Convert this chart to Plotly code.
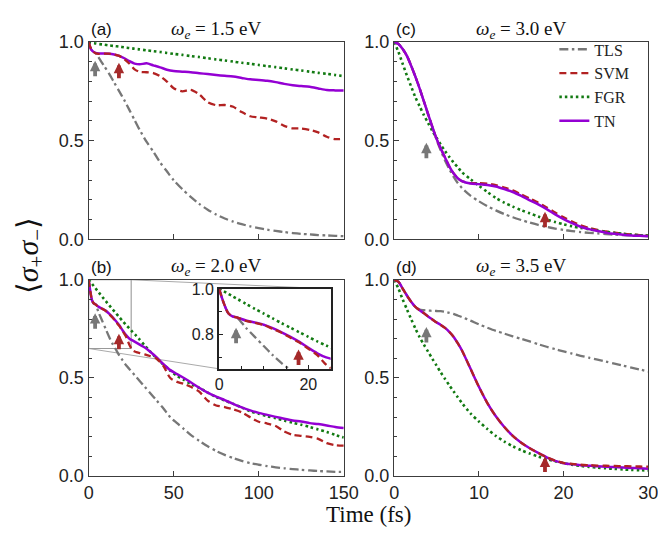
import plotly.graph_objects as go

# ---------------- data ----------------
series_names = ["TLS", "SVM", "FGR", "TN"]

# panel (a)  omega_e = 1.5 eV
t_a = [0, 1, 2, 4, 6, 9, 12, 15, 18, 21, 24, 27, 30, 34, 38, 42, 46, 50, 55, 60, 65,
       70, 75, 80, 85, 90, 95, 100, 105, 110, 115, 120, 125, 130, 135, 140, 145, 150]
tls_a = [1.0, 0.97, 0.957, 0.945, 0.92, 0.88, 0.84, 0.795, 0.75, 0.705, 0.655, 0.605, 0.555,
         0.495, 0.445, 0.39, 0.345, 0.30, 0.255, 0.215, 0.18, 0.15, 0.126, 0.106, 0.09, 0.077,
         0.066, 0.057, 0.049, 0.043, 0.037, 0.032, 0.028, 0.025, 0.022, 0.02, 0.018, 0.016]
svm_a = [1.0, 0.975, 0.958, 0.943, 0.94, 0.941, 0.941, 0.937, 0.93, 0.913, 0.89, 0.862, 0.849,
         0.847, 0.843, 0.827, 0.8, 0.766, 0.75, 0.758, 0.735, 0.695, 0.68, 0.681, 0.672, 0.645,
         0.624, 0.618, 0.612, 0.598, 0.575, 0.563, 0.562, 0.555, 0.542, 0.52, 0.508, 0.51]
fgr_a = [1.0, 0.997, 0.995, 0.993, 0.99, 0.987, 0.983, 0.98, 0.977, 0.973, 0.97, 0.966, 0.963,
         0.958, 0.954, 0.95, 0.945, 0.94, 0.935, 0.929, 0.924, 0.918, 0.912, 0.907, 0.901, 0.895,
         0.89, 0.884, 0.878, 0.873, 0.867, 0.861, 0.856, 0.85, 0.844, 0.839, 0.833, 0.827]
tn_a = [1.0, 0.97, 0.957, 0.945, 0.942, 0.942, 0.941, 0.937, 0.93, 0.918, 0.903, 0.891, 0.887,
        0.892, 0.882, 0.872, 0.86, 0.853, 0.85, 0.847, 0.842, 0.838, 0.833, 0.829, 0.825, 0.818,
        0.811, 0.808, 0.804, 0.797, 0.788, 0.781, 0.777, 0.773, 0.765, 0.757, 0.755, 0.754]

# panel (b)  omega_e = 2.0 eV
t_b = [0, 1, 2, 3, 4, 6, 8, 10, 12, 14, 16, 18, 20, 22, 24, 26, 28, 30, 33, 36, 40, 44, 48,
       52, 56, 60, 65, 70, 75, 80, 85, 90, 95, 100, 105, 110, 115, 120, 125, 130, 135, 140,
       145, 150]
tls_b = [1.0, 0.94, 0.895, 0.88, 0.875, 0.83, 0.79, 0.75, 0.71, 0.675, 0.645, 0.615, 0.59,
         0.565, 0.545, 0.525, 0.505, 0.485, 0.455, 0.425, 0.385, 0.345, 0.30, 0.27, 0.24, 0.21,
         0.18, 0.152, 0.128, 0.108, 0.092, 0.078, 0.066, 0.058, 0.051, 0.045, 0.04, 0.036,
         0.032, 0.029, 0.026, 0.024, 0.022, 0.021]
svm_b = [1.0, 0.94, 0.895, 0.88, 0.875, 0.86, 0.852, 0.842, 0.825, 0.808, 0.786, 0.765, 0.738,
         0.71, 0.668, 0.64, 0.632, 0.627, 0.62, 0.612, 0.598, 0.56, 0.5, 0.48, 0.47, 0.455,
         0.43, 0.385, 0.36, 0.352, 0.34, 0.325, 0.3, 0.277, 0.268, 0.255, 0.228, 0.21, 0.205,
         0.2, 0.19, 0.168, 0.158, 0.155]
fgr_b = [1.0, 0.99, 0.979, 0.968, 0.957, 0.935, 0.913, 0.892, 0.871, 0.85, 0.83, 0.81, 0.79,
         0.77, 0.752, 0.733, 0.715, 0.695, 0.665, 0.637, 0.6, 0.567, 0.537, 0.51, 0.49, 0.47,
         0.45, 0.425, 0.403, 0.385, 0.368, 0.35, 0.33, 0.318, 0.305, 0.295, 0.283, 0.272,
         0.262, 0.25, 0.238, 0.225, 0.21, 0.197]
tn_b = [1.0, 0.94, 0.895, 0.88, 0.875, 0.862, 0.853, 0.843, 0.828, 0.81, 0.79, 0.768, 0.742,
        0.718, 0.70, 0.69, 0.68, 0.67, 0.655, 0.635, 0.605, 0.57, 0.54, 0.52, 0.5, 0.478,
        0.45, 0.425, 0.405, 0.387, 0.368, 0.35, 0.335, 0.322, 0.312, 0.302, 0.292, 0.283,
        0.278, 0.27, 0.265, 0.258, 0.25, 0.245]

# panels (c) and (d) share a time grid
t_cd = [0, 0.5, 1, 1.5, 2, 2.5, 3, 3.5, 4, 4.5, 5, 5.5, 6, 6.5, 7, 7.5, 8, 9, 10, 11, 12,
        13, 14, 15, 16, 17, 18, 19, 20, 21, 22, 23, 24, 25, 26, 27, 28, 29, 30]
# panel (c)  omega_e = 3.0 eV
tls_c = [1.0, 0.99, 0.965, 0.93, 0.88, 0.825, 0.765, 0.70, 0.635, 0.57, 0.505, 0.45, 0.40,
         0.357, 0.318, 0.286, 0.26, 0.222, 0.193, 0.168, 0.147, 0.128, 0.112, 0.098, 0.085,
         0.073, 0.063, 0.055, 0.048, 0.042, 0.037, 0.033, 0.03, 0.027, 0.024, 0.022, 0.02,
         0.018, 0.016]
svm_c = [1.0, 0.99, 0.965, 0.93, 0.88, 0.825, 0.765, 0.70, 0.635, 0.57, 0.51, 0.46, 0.415,
         0.37, 0.335, 0.31, 0.295, 0.285, 0.285, 0.282, 0.275, 0.263, 0.248, 0.228, 0.207,
         0.186, 0.162, 0.136, 0.112, 0.09, 0.072, 0.058, 0.048, 0.04, 0.034, 0.029, 0.025,
         0.022, 0.02]
fgr_c = [1.0, 0.95, 0.89, 0.83, 0.775, 0.72, 0.675, 0.63, 0.59, 0.55, 0.515, 0.48, 0.447,
         0.418, 0.39, 0.366, 0.34, 0.305, 0.272, 0.24, 0.21, 0.186, 0.166, 0.148, 0.132,
         0.116, 0.101, 0.088, 0.076, 0.066, 0.058, 0.051, 0.044, 0.038, 0.033, 0.028, 0.024,
         0.021, 0.018]
tn_c = [1.0, 0.99, 0.965, 0.93, 0.88, 0.825, 0.765, 0.70, 0.635, 0.57, 0.51, 0.46, 0.415,
        0.37, 0.335, 0.31, 0.295, 0.283, 0.28, 0.276, 0.268, 0.255, 0.24, 0.22, 0.198, 0.177,
        0.153, 0.127, 0.103, 0.082, 0.064, 0.052, 0.042, 0.034, 0.028, 0.024, 0.02, 0.018,
        0.016]
# panel (d)  omega_e = 3.5 eV
tls_d = [1.0, 0.99, 0.955, 0.92, 0.888, 0.862, 0.848, 0.845, 0.843, 0.842, 0.841, 0.84,
         0.837, 0.832, 0.826, 0.818, 0.81, 0.792, 0.773, 0.756, 0.74, 0.726, 0.712, 0.699,
         0.686, 0.672, 0.659, 0.647, 0.635, 0.624, 0.613, 0.603, 0.593, 0.583, 0.573, 0.563,
         0.553, 0.543, 0.533]
svm_d = [1.0, 0.99, 0.955, 0.92, 0.888, 0.862, 0.845, 0.83, 0.813, 0.798, 0.783, 0.77, 0.755,
         0.735, 0.71, 0.677, 0.64, 0.548, 0.455, 0.372, 0.305, 0.25, 0.205, 0.17, 0.142,
         0.118, 0.096, 0.079, 0.068, 0.062, 0.058, 0.056, 0.054, 0.053, 0.052, 0.051, 0.05,
         0.049, 0.048]
fgr_d = [1.0, 0.955, 0.9, 0.85, 0.8, 0.752, 0.708, 0.67, 0.634, 0.598, 0.563, 0.528, 0.495,
         0.463, 0.432, 0.402, 0.372, 0.32, 0.278, 0.24, 0.205, 0.176, 0.152, 0.132, 0.115,
         0.1, 0.087, 0.076, 0.066, 0.058, 0.052, 0.047, 0.043, 0.04, 0.037, 0.034, 0.032,
         0.03, 0.029]
tn_d = [1.0, 0.99, 0.955, 0.92, 0.888, 0.862, 0.845, 0.83, 0.813, 0.798, 0.783, 0.77, 0.755,
        0.735, 0.71, 0.677, 0.64, 0.548, 0.455, 0.372, 0.305, 0.25, 0.205, 0.17, 0.142,
        0.118, 0.096, 0.078, 0.066, 0.06, 0.056, 0.053, 0.05, 0.048, 0.046, 0.044, 0.042,
        0.04, 0.038]

panel_letters = ["(a)", "(b)", "(c)", "(d)"]
omega_values = ["1.5", "2.0", "3.0", "3.5"]

# arrows: times marked and the curve value at each arrow tip
arrow_times = [3.8, 17.8]
arrow_tip_a = [0.905, 0.895]
arrow_tip_b = [0.83, 0.725]
arrow_tip_c = [0.49, 0.14]
arrow_tip_d = [0.76, 0.10]
arrow_tip_inset = [0.83, 0.735]

# inset window of panel (b)
inset_x_range = [0, 25]
inset_y_range = [0.65, 1.0]

# ---------------- styling ----------------
W, H = 666, 533
C = {"TLS": "#777777", "SVM": "#b22222", "FGR": "#127a12", "TN": "#9400d3"}
DASH = {"TLS": "9px,3.5px,2.5px,3.5px", "SVM": "7px,4px", "FGR": "2.5px,3px", "TN": "solid"}
WID = {"TLS": 2.3, "SVM": 2.3, "FGR": 2.6, "TN": 2.5}
ARROW_C = ["#777777", "#a52a2a"]
FRAME = "#3c3c3c"
SANS = "Liberation Sans, Arial, sans-serif"
SERIF = "Liberation Serif, Times New Roman, serif"


def xd(p0, p1):
    return [p0 / W, p1 / W]


def yd(top, bottom):
    return [1 - bottom / H, 1 - top / H]


# plot-area boxes in pixels (left, right, top, bottom)
boxes = {
    "a": (78, 341, 25, 230),
    "b": (78, 341, 272, 476),
    "c": (393, 655, 25, 230),
    "d": (393, 655, 272, 476),
    "i": (212.5, 327.5, 281.5, 364.5),
}

fig = go.Figure()

panels = [
    ("a", "x", "y", t_a, {"TLS": tls_a, "SVM": svm_a, "FGR": fgr_a, "TN": tn_a}, ["TLS", "FGR", "TN", "SVM"]),
    ("b", "x2", "y2", t_b, {"TLS": tls_b, "SVM": svm_b, "FGR": fgr_b, "TN": tn_b}, ["TLS", "FGR", "TN", "SVM"]),
    ("c", "x3", "y3", t_cd, {"TLS": tls_c, "SVM": svm_c, "FGR": fgr_c, "TN": tn_c}, ["TLS", "SVM", "FGR", "TN"]),
    ("d", "x4", "y4", t_cd, {"TLS": tls_d, "SVM": svm_d, "FGR": fgr_d, "TN": tn_d}, ["TLS", "FGR", "TN", "SVM"]),
    ("i", "x5", "y5", t_b, {"TLS": tls_b, "SVM": svm_b, "FGR": fgr_b, "TN": tn_b}, ["TLS", "FGR", "TN", "SVM"]),
]

for key, xa, ya, tt, ser, order in panels:
    for name in order:
        fig.add_trace(go.Scatter(
            x=tt, y=ser[name], xaxis=xa, yaxis=ya, mode="lines", name=name,
            line=dict(color=C[name], width=WID[name], dash=DASH[name], shape="spline", smoothing=0.7),
            showlegend=(key == "c"), legendrank=series_names.index(name) + 1,
            hoverinfo="skip",
        ))

tickfont = dict(family=SANS, size=18, color="#222222")


def xaxis(box, rng, dtick, labels, anchor):
    l, r, t, b = box
    return dict(domain=xd(l, r), range=rng, anchor=anchor, showline=True, mirror=True,
                linecolor=FRAME, linewidth=1.4, ticks="inside", ticklen=5, tickwidth=1.2,
                tickcolor=FRAME, showgrid=False, zeroline=False, tick0=0, dtick=dtick,
                showticklabels=labels, tickfont=tickfont)


def yaxis(box, anchor):
    l, r, t, b = box
    return dict(domain=yd(t, b), range=[0, 1.0], anchor=anchor, showline=True, mirror=True,
                linecolor=FRAME, linewidth=1.4, ticks="inside", ticklen=5, tickwidth=1.2,
                tickcolor=FRAME, showgrid=False, zeroline=False, tick0=0, dtick=0.5,
                tickformat=".1f", tickfont=tickfont,
                minor=dict(dtick=0.1, ticks="inside", ticklen=3, tickwidth=1, tickcolor=FRAME))


li, ri, ti, bi = boxes["i"]
layout = dict(
    width=W, height=H, margin=dict(l=0, r=0, t=0, b=0),
    paper_bgcolor="white", plot_bgcolor="white",
    xaxis=xaxis(boxes["a"], [0, 150], 50, False, "y"),
    yaxis=yaxis(boxes["a"], "x"),
    xaxis2=xaxis(boxes["b"], [0, 150], 50, True, "y2"),
    yaxis2=yaxis(boxes["b"], "x2"),
    xaxis3=xaxis(boxes["c"], [0, 30], 10, False, "y3"),
    yaxis3=yaxis(boxes["c"], "x3"),
    xaxis4=xaxis(boxes["d"], [0, 30], 10, True, "y4"),
    yaxis4=yaxis(boxes["d"], "x4"),
    xaxis5=dict(domain=xd(li, ri), range=inset_x_range, anchor="y5", showline=True, mirror=True,
                linecolor="#222222", linewidth=2, ticks="inside", ticklen=4, tickwidth=1.2,
                tickcolor="#222222", showgrid=False, zeroline=False, tick0=0, dtick=20,
                tickfont=dict(family=SANS, size=16, color="#222222"),
                minor=dict(dtick=5, ticks="inside", ticklen=3, tickcolor="#222222")),
    yaxis5=dict(domain=yd(ti, bi), range=inset_y_range, anchor="x5", showline=True, mirror=True,
                linecolor="#222222", linewidth=2, ticks="inside", ticklen=4, tickwidth=1.2,
                tickcolor="#222222", showgrid=False, zeroline=False, tick0=0, dtick=0.2,
                tickformat=".1f", tickfont=dict(family=SANS, size=16, color="#222222"),
                minor=dict(dtick=0.1, ticks="inside", ticklen=3, tickcolor="#222222")),
    showlegend=True,
    legend=dict(x=0.838, y=0.972, xanchor="left", yanchor="top", bgcolor="rgba(0,0,0,0)",
                font=dict(family=SERIF, size=16, color="#222222"), tracegroupgap=0,
                traceorder="normal"),
)
fig.update_layout(**layout)

annotations = []
# panel letters and titles
for key, letter, om in zip(["a", "b", "c", "d"], panel_letters, omega_values):
    l, r, t, b = boxes[key]
    annotations.append(dict(xref="paper", yref="paper", x=l / W, y=1 - (t - 13) / H,
                            xanchor="left", yanchor="middle", showarrow=False, text=letter,
                            font=dict(family=SANS, size=17, color="#111111")))
    annotations.append(dict(xref="paper", yref="paper", x=(l + r) / 2 / W, y=1 - (t - 13) / H,
                            xanchor="center", yanchor="middle", showarrow=False,
                            text="<i>ω</i><sub><i>e</i></sub> = " + om + " eV",
                            font=dict(family=SERIF, size=19, color="#111111")))

# axis titles
annotations.append(dict(xref="paper", yref="paper", x=17 / W, y=1 - 247 / H, textangle=-90,
                        xanchor="center", yanchor="middle", showarrow=False,
                        text="⟨<i>σ</i><sub>+</sub><i>σ</i><sub>−</sub>⟩",
                        font=dict(family=SERIF, size=30, color="#111111")))
annotations.append(dict(xref="paper", yref="paper", x=367 / W, y=1 - 516 / H,
                        xanchor="center", yanchor="middle", showarrow=False, text="Time (fs)",
                        font=dict(family=SERIF, size=23, color="#111111")))

# arrows
for xa, ya, tips in [("x", "y", arrow_tip_a), ("x2", "y2", arrow_tip_b), ("x3", "y3", arrow_tip_c),
                     ("x4", "y4", arrow_tip_d), ("x5", "y5", arrow_tip_inset)]:
    for tval, yval, col in zip(arrow_times, tips, ARROW_C):
        annotations.append(dict(xref=xa, yref=ya, x=tval, y=yval, ax=0, ay=17, text="",
                                showarrow=True, arrowhead=2, arrowsize=0.55, arrowwidth=3.8,
                                arrowcolor=col, standoff=0))
fig.update_layout(annotations=annotations)

# zoom rectangle in (b) and connector lines to the inset
lb, rb, tb, bb = boxes["b"]


def bx(v):  # data x of panel (b) -> paper
    return (lb + (rb - lb) * (v - 0) / 150) / W


def by(v):  # data y of panel (b) -> paper
    return 1 - (bb - (bb - tb) * v / 1.0) / H


shapes = [
    dict(type="rect", xref="x2", yref="y2", x0=inset_x_range[0], x1=inset_x_range[1],
         y0=inset_y_range[0], y1=inset_y_range[1], line=dict(color="#999999", width=1.1),
         layer="below"),
    dict(type="line", xref="paper", yref="paper", x0=bx(inset_x_range[1]), y0=by(inset_y_range[1]),
         x1=ri / W, y1=1 - ti / H, line=dict(color="#aaaaaa", width=1), layer="below"),
    dict(type="line", xref="paper", yref="paper", x0=bx(inset_x_range[0]), y0=by(inset_y_range[0]),
         x1=li / W, y1=1 - bi / H, line=dict(color="#aaaaaa", width=1), layer="below"),
]
fig.update_layout(shapes=shapes)

fig.write_html("out.html")
